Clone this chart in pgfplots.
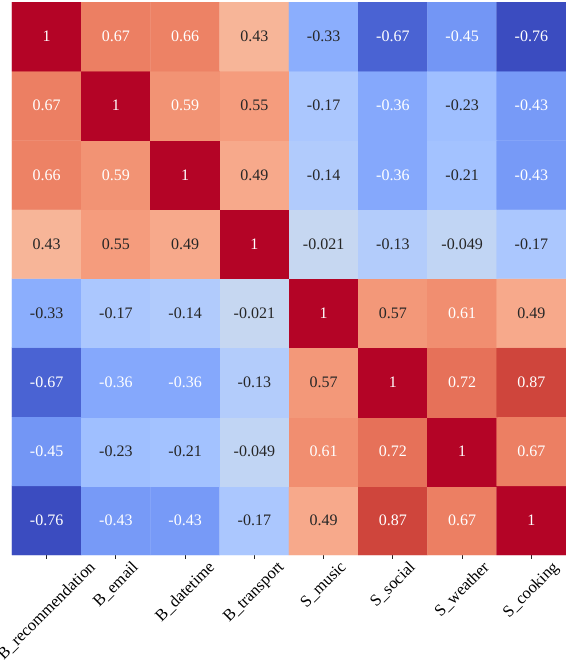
\documentclass[border=0pt]{standalone}
\usepackage{fontspec}
\setmainfont{Liberation Serif}
\usepackage{graphicx}
\usepackage{pgfplots}
\pgfplotsset{compat=1.18}
\usepackage{pgfplotstable}
% x = column, y = 7 - row (row 0 at the top)
\pgfplotstableread{
x y v
0 0 -0.76
1 0 -0.43
2 0 -0.43
3 0 -0.17
4 0 0.49
5 0 0.87
6 0 0.67
7 0 1
0 1 -0.45
1 1 -0.23
2 1 -0.21
3 1 -0.049
4 1 0.61
5 1 0.72
6 1 1
7 1 0.67
0 2 -0.67
1 2 -0.36
2 2 -0.36
3 2 -0.13
4 2 0.57
5 2 1
6 2 0.72
7 2 0.87
0 3 -0.33
1 3 -0.17
2 3 -0.14
3 3 -0.021
4 3 1
5 3 0.57
6 3 0.61
7 3 0.49
0 4 0.43
1 4 0.55
2 4 0.49
3 4 1
4 4 -0.021
5 4 -0.13
6 4 -0.049
7 4 -0.17
0 5 0.66
1 5 0.59
2 5 1
3 5 0.49
4 5 -0.14
5 5 -0.36
6 5 -0.21
7 5 -0.43
0 6 0.67
1 6 1
2 6 0.59
3 6 0.55
4 6 -0.17
5 6 -0.36
6 6 -0.23
7 6 -0.43
0 7 1
1 7 0.67
2 7 0.66
3 7 0.43
4 7 -0.33
5 7 -0.67
6 7 -0.45
7 7 -0.76
}\corr
\begin{document}
\begin{tikzpicture}
\begin{axis}[
  at={(0,0)}, anchor=south west,
  scale only axis, width=554pt, height=553pt,
  xmin=-0.5, xmax=7.5, ymin=-0.5, ymax=7.5,
  axis line style={draw=none},
  xtick={0,...,7},
  xticklabels={
    \rotatebox{45}{B\_recommendation},
    \rotatebox{45}{B\_email},
    \rotatebox{45}{B\_datetime},
    \rotatebox{45}{B\_transport},
    \rotatebox{45}{S\_music},
    \rotatebox{45}{S\_social},
    \rotatebox{45}{S\_weather},
    \rotatebox{45}{S\_cooking}},
  x tick label style={anchor=north, font=\fontsize{16.5}{19}\selectfont, inner sep=1.5pt},
  ytick=\empty,
  xtick pos=lower, xtick align=outside,
  major tick length=3.5pt,
  tick style={black!85, line width=0.8pt},
  colormap={coolwarm}{
    rgb255=(59,76,192) rgb255=(68,90,204) rgb255=(77,104,215) rgb255=(87,117,225)
    rgb255=(98,130,234) rgb255=(108,142,241) rgb255=(119,154,247) rgb255=(130,165,251)
    rgb255=(141,176,254) rgb255=(152,185,255) rgb255=(163,194,255) rgb255=(174,201,253)
    rgb255=(184,208,249) rgb255=(194,213,244) rgb255=(204,217,238) rgb255=(213,219,230)
    rgb255=(221,221,221) rgb255=(229,216,209) rgb255=(236,211,197) rgb255=(241,204,185)
    rgb255=(245,196,173) rgb255=(247,187,160) rgb255=(247,177,148) rgb255=(247,166,135)
    rgb255=(244,154,123) rgb255=(241,141,111) rgb255=(236,127,99) rgb255=(229,112,88)
    rgb255=(222,96,77) rgb255=(213,80,66) rgb255=(203,62,56) rgb255=(192,40,47)
    rgb255=(180,4,38)},
  point meta min=-0.76, point meta max=1,
]
\addplot[matrix plot*, mesh/cols=8, point meta=explicit] table[x=x, y=y, meta=v]{\corr};
\addplot[only marks, mark=*, mark size=0pt, mark options={draw=none, fill=none},
  point meta=explicit symbolic,
  visualization depends on={\thisrow{v} \as \val},
  nodes near coords={\pgfmathparse{or(\val>0.58,\val<-0.35)}%
    \ifdim\pgfmathresult pt>0.5pt\color{white}\else\color{black!85}\fi
    \pgfplotspointmeta},
  nodes near coords align={center},
  nodes near coords style={font=\fontsize{16}{19}\selectfont, inner sep=0pt}]
  table[x=x, y=y, meta=v]{\corr};
\end{axis}
\pgfresetboundingbox
\path[use as bounding box] (-12pt,-106pt) rectangle (554pt,555pt);
\end{tikzpicture}
\end{document}
